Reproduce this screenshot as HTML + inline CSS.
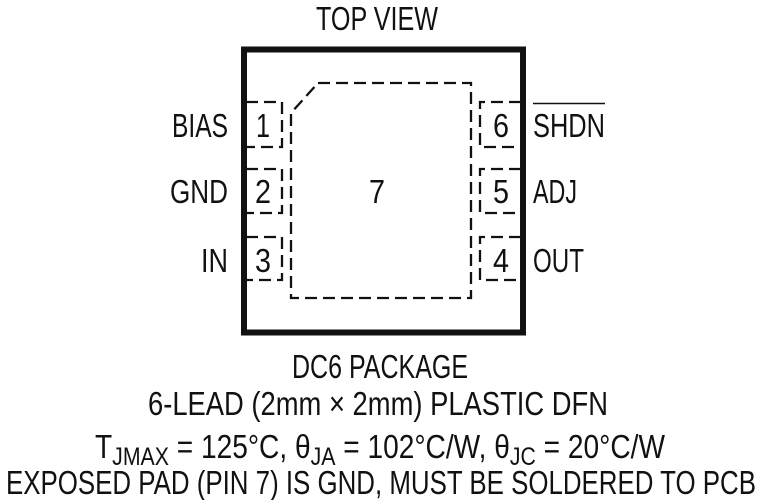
<!DOCTYPE html>
<html><head><meta charset="utf-8"><style>
html,body{margin:0;padding:0;background:#fff;}
svg{display:block;}
text{font-family:"Liberation Sans Narrow","Liberation Sans",sans-serif;fill:#111;}
</style></head><body>
<svg width="762" height="500" viewBox="0 0 762 500">
<rect x="244" y="49.5" width="279" height="283" fill="none" stroke="#111" stroke-width="6"/>
<g fill="none" stroke="#111" stroke-width="2.3" stroke-dasharray="12,6">
<path d="M318 83 L471 83 L471 298 L291 298 L291 113 Z"/>
<path d="M246 102 L282 102 L282 147 L246 147"/>
<path d="M246 169 L282 169 L282 213 L246 213"/>
<path d="M246 237 L282 237 L282 280 L246 280"/>
<path d="M521 102 L480 102 L480 147 L521 147"/>
<path d="M521 169 L480 169 L480 213 L521 213"/>
<path d="M521 237 L480 237 L480 280 L521 280"/>
</g>
<g font-size="33">
<text x="377" y="30" text-anchor="middle" textLength="122" lengthAdjust="spacingAndGlyphs">TOP VIEW</text>
<text x="228" y="137" text-anchor="end" textLength="56" lengthAdjust="spacingAndGlyphs">BIAS</text>
<text x="228" y="203" text-anchor="end" textLength="58" lengthAdjust="spacingAndGlyphs">GND</text>
<text x="228" y="272" text-anchor="end" textLength="27" lengthAdjust="spacingAndGlyphs">IN</text>
<text x="533" y="137" textLength="72" lengthAdjust="spacingAndGlyphs">SHDN</text>
<line x1="533" y1="103.5" x2="605" y2="103.5" stroke="#111" stroke-width="1.5"/>
<text x="533" y="203" textLength="44" lengthAdjust="spacingAndGlyphs">ADJ</text>
<text x="533" y="272" textLength="51" lengthAdjust="spacingAndGlyphs">OUT</text>
<text x="263" y="137" text-anchor="middle" textLength="14" lengthAdjust="spacingAndGlyphs">1</text>
<text x="263" y="203" text-anchor="middle" textLength="16" lengthAdjust="spacingAndGlyphs">2</text>
<text x="263" y="272" text-anchor="middle" textLength="16" lengthAdjust="spacingAndGlyphs">3</text>
<text x="501" y="137" text-anchor="middle" textLength="16" lengthAdjust="spacingAndGlyphs">6</text>
<text x="501" y="203" text-anchor="middle" textLength="16" lengthAdjust="spacingAndGlyphs">5</text>
<text x="501" y="272" text-anchor="middle" textLength="16" lengthAdjust="spacingAndGlyphs">4</text>
<text x="377" y="203" text-anchor="middle" textLength="16" lengthAdjust="spacingAndGlyphs">7</text>
<text x="380" y="378" text-anchor="middle" textLength="176" lengthAdjust="spacingAndGlyphs">DC6 PACKAGE</text>
<text x="378" y="415" text-anchor="middle" textLength="460" lengthAdjust="spacingAndGlyphs">6-LEAD (2mm × 2mm) PLASTIC DFN</text>
<text x="95" y="458" textLength="570" lengthAdjust="spacingAndGlyphs">T<tspan font-size="25" dy="7">JMAX</tspan><tspan dy="-7"> = 125°C, θ</tspan><tspan font-size="25" dy="7">JA</tspan><tspan dy="-7"> = 102°C/W, θ</tspan><tspan font-size="25" dy="7">JC</tspan><tspan dy="-7"> = 20°C/W</tspan></text>
<text x="6" y="494" textLength="750" lengthAdjust="spacingAndGlyphs">EXPOSED PAD (PIN 7) IS GND, MUST BE SOLDERED TO PCB</text>
</g>
</svg>
</body></html>
